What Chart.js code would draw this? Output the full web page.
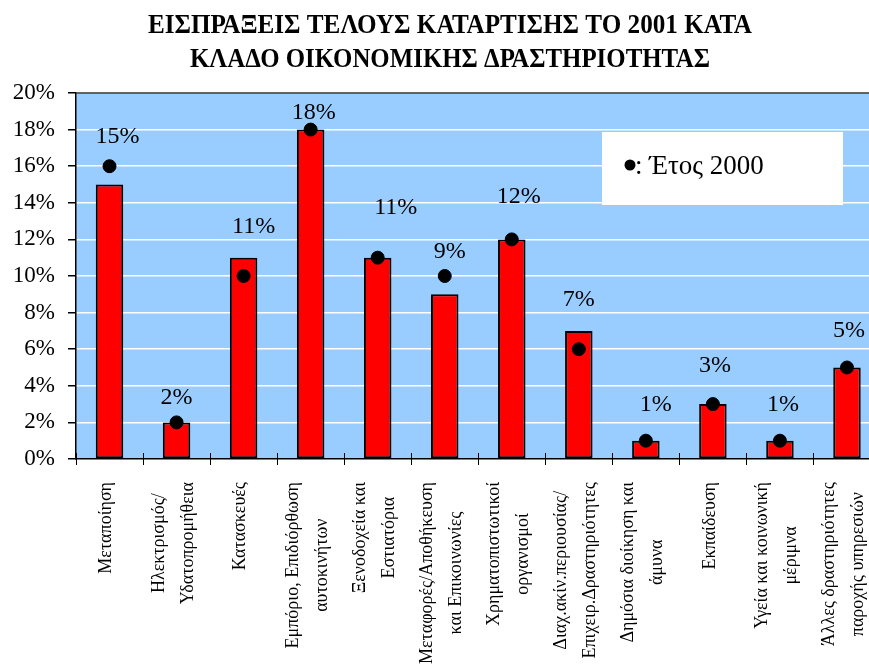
<!DOCTYPE html>
<html>
<head>
<meta charset="utf-8">
<script src="https://cdn.jsdelivr.net/npm/chart.js@4.4.1/dist/chart.umd.min.js"></script>
<style>
  html, body { margin: 0; padding: 0; background: #fff; overflow: hidden; width: 869px; height: 667px; }
  #wrap { width: 888px; height: 667px; position: relative; }
</style>
</head>
<body>
<div id="wrap"><canvas id="c" width="888" height="667" style="width:888px;height:667px"></canvas></div>
<script>
const titleLines = ['ΕΙΣΠΡΑΞΕΙΣ ΤΕΛΟΥΣ ΚΑΤΑΡΤΙΣΗΣ ΤΟ 2001 ΚΑΤΑ', 'ΚΛΑΔΟ ΟΙΚΟΝΟΜΙΚΗΣ ΔΡΑΣΤΗΡΙΟΤΗΤΑΣ'];
const categories = [
  ['Μεταποίηση'],
  ['Ηλεκτρισμός/', 'Υδατοπρομήθεια'],
  ['Κατασκευές'],
  ['Εμπόριο, Επιδιόρθωση', 'αυτοκινήτων'],
  ['Ξενοδοχεία και', 'Εστιατόρια'],
  ['Μεταφορές/Αποθήκευση', 'και Επικοινωνίες'],
  ['Χρηματοπιστωτικοί', 'οργανισμοί'],
  ['Διαχ.ακίν.περιουσίας/', 'Επιχειρ.Δραστηριότητες'],
  ['Δημόσια διοίκηση και', 'άμυνα'],
  ['Εκπαίδευση'],
  ['Υγεία και κοινωνική', 'μέριμνα'],
  ['Άλλες δραστηριότητες', 'παροχής υπηρεσιών']
];
const values2001 = [15, 2, 11, 18, 11, 9, 12, 7, 1, 3, 1, 5];
const values2000 = [16, 2, 10, 18, 11, 10, 12, 6, 1, 3, 1, 5];
const yTicks = [0, 2, 4, 6, 8, 10, 12, 14, 16, 18, 20];
const legendText = ': Έτος 2000';

const SERIF = '"Liberation Serif", "Times New Roman", serif';

const deco = {
  id: 'deco',
  beforeDraw(chart) {
    const { ctx, chartArea: a } = chart;
    ctx.save();
    ctx.fillStyle = '#99CCFF';
    ctx.fillRect(a.left, a.top, a.right - a.left, a.bottom - a.top);
    ctx.restore();
  },
  afterDatasetsDraw(chart, args, opts) {
    const { ctx, chartArea: a } = chart;
    const xs = chart.scales.x, ys = chart.scales.y;
    ctx.save();
    ctx.strokeStyle = '#333';
    ctx.lineWidth = 1.5;
    ctx.beginPath();
    ctx.moveTo(a.left, a.top); ctx.lineTo(a.right, a.top);
    ctx.stroke();
    // value labels
    ctx.fillStyle = '#000';
    ctx.font = '24px ' + SERIF;
    ctx.textAlign = 'center';
    ctx.textBaseline = 'middle';
    values2001.forEach((v, i) => {
      const ref = ys.getPixelForValue(Math.max(v, values2000[i]));
      const x = xs.getPixelForValue(i) + opts.labelShift[i];
      ctx.fillText(v + '%', x, ref - opts.labelLift[i]);
    });
    // x tick marks at category boundaries
    ctx.strokeStyle = '#000';
    ctx.lineWidth = 1;
    const n = categories.length;
    const w = (a.right - a.left) / n;
    for (let k = 0; k <= n; k++) {
      const x = Math.round(a.left + k * w) + 0.5;
      ctx.beginPath();
      ctx.moveTo(x, a.bottom - 6); ctx.lineTo(x, a.bottom + 6);
      ctx.stroke();
    }
    // rotated category labels
    ctx.font = '18px ' + SERIF;
    categories.forEach((lines, i) => {
      const cx = xs.getPixelForValue(i) - 3;
      const maxW = Math.max(...lines.map(l => ctx.measureText(l).width));
      const top = a.bottom + 23;
      const nL = lines.length;
      ctx.save();
      ctx.translate(cx, top + maxW / 2);
      ctx.rotate(-Math.PI / 2);
      ctx.textAlign = 'center';
      ctx.textBaseline = 'middle';
      lines.forEach((l, j) => {
        ctx.fillText(l, 0, (j - (nL - 1) / 2) * 29);
      });
      ctx.restore();
    });
    // legend box
    const lx = a.left + 526, ly = a.top + 39;
    ctx.fillStyle = '#fff';
    ctx.fillRect(lx, ly, 241, 73);
    ctx.fillStyle = '#000';
    ctx.beginPath();
    ctx.arc(lx + 28, ly + 33, 5.5, 0, Math.PI * 2);
    ctx.fill();
    ctx.font = '27px ' + SERIF;
    ctx.textAlign = 'left';
    ctx.textBaseline = 'alphabetic';
    ctx.fillText(legendText, lx + 33, ly + 42);
    // title
    ctx.font = 'bold 28px ' + SERIF;
    ctx.textAlign = 'center';
    const targets = [604, 520];
    const baselines = [33, 67];
    titleLines.forEach((t, i) => {
      const tw = ctx.measureText(t).width;
      const sx = targets[i] / tw;
      ctx.save();
      ctx.translate(450, baselines[i]);
      ctx.scale(sx, 1);
      ctx.fillText(t, 0, 0);
      ctx.restore();
    });
    ctx.restore();
  }
};

new Chart(document.getElementById('c'), {
  type: 'bar',
  data: {
    labels: categories.map(c => c.join(' ')),
    datasets: [
      {
        type: 'line',
        label: 'Έτος 2000',
        data: values2000,
        showLine: false,
        pointRadius: 6.5,
        pointHoverRadius: 6.5,
        pointBackgroundColor: '#000',
        pointBorderColor: '#000',
        order: 0
      },
      {
        label: '2001',
        data: values2001,
        backgroundColor: '#FF0000',
        borderColor: '#000',
        borderWidth: 2,
        borderSkipped: false,
        barPercentage: 0.41,
        categoryPercentage: 1,
        order: 1
      }
    ]
  },
  options: {
    responsive: false,
    animation: false,
    events: [],
    layout: { padding: { top: 93, left: 0, right: 1, bottom: 0 } },
    plugins: {
      legend: { display: false },
      title: { display: false },
      tooltip: { enabled: false },
      deco: {
        labelLift: [29, 25, 31, 17, 50, 24, 43, 31, 36, 38, 36, 37],
        labelShift: [8, 0, 10, 3, 18, 5, 7, 0, 10, 2, 3, 2]
      }
    },
    scales: {
      x: {
        offset: true,
        grid: { display: false },
        ticks: { display: false },
        border: { display: true, color: '#000', width: 1.5 },
        afterFit(s) { s.height = 208; }
      },
      y: {
        min: 0, max: 20,
        afterBuildTicks(s) { s.ticks = yTicks.map(v => ({ value: v })); },
        ticks: {
          callback: v => v + '%',
          color: '#000',
          font: { family: SERIF, size: 23 },
          padding: 13
        },
        grid: { color: '#fff', lineWidth: 1.5, tickColor: '#000', tickLength: 8, drawTicks: true },
        border: { display: true, color: '#000', width: 1.5 },
        afterFit(s) { s.width = 76; }
      }
    }
  },
  plugins: [deco]
});
</script>
</body>
</html>
